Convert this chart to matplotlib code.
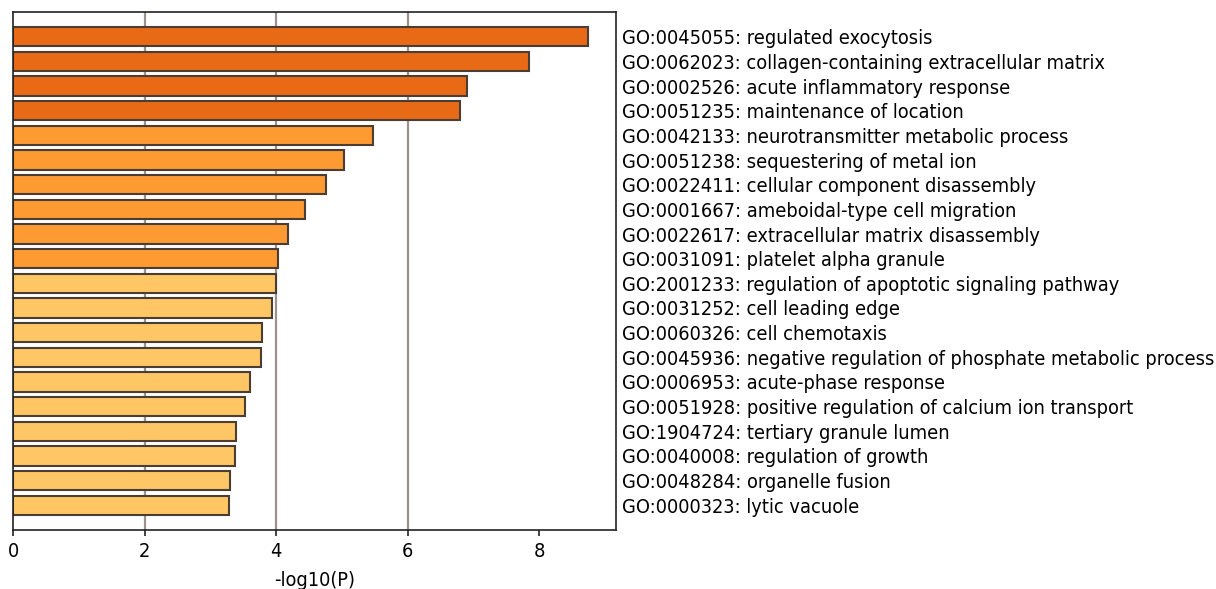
import numpy as np
import matplotlib.pyplot as plt
from matplotlib import font_manager

# GO term enrichment, -log10(P)
terms = [
    "GO:0045055: regulated exocytosis",
    "GO:0062023: collagen-containing extracellular matrix",
    "GO:0002526: acute inflammatory response",
    "GO:0051235: maintenance of location",
    "GO:0042133: neurotransmitter metabolic process",
    "GO:0051238: sequestering of metal ion",
    "GO:0022411: cellular component disassembly",
    "GO:0001667: ameboidal-type cell migration",
    "GO:0022617: extracellular matrix disassembly",
    "GO:0031091: platelet alpha granule",
    "GO:2001233: regulation of apoptotic signaling pathway",
    "GO:0031252: cell leading edge",
    "GO:0060326: cell chemotaxis",
    "GO:0045936: negative regulation of phosphate metabolic process",
    "GO:0006953: acute-phase response",
    "GO:0051928: positive regulation of calcium ion transport",
    "GO:1904724: tertiary granule lumen",
    "GO:0040008: regulation of growth",
    "GO:0048284: organelle fusion",
    "GO:0000323: lytic vacuole",
]
log_p = [8.74, 7.85, 6.91, 6.79, 5.48, 5.04, 4.76, 4.44, 4.18, 4.03,
         4.00, 3.94, 3.79, 3.77, 3.61, 3.53, 3.39, 3.37, 3.30, 3.28]
# significance tier: 0 = strongest, 2 = weakest
tier = [0, 0, 0, 0, 1, 1, 1, 1, 1, 1,
        2, 2, 2, 2, 2, 2, 2, 2, 2, 2]

tier_colors = ["#E86A17", "#FD9A31", "#FFC666"]

# narrow face if the condensed DejaVu is around
names = {f.name for f in font_manager.fontManager.ttflist}
if "DejaVu Sans Condensed" in names:
    plt.rcParams["font.family"] = "DejaVu Sans Condensed"
else:
    plt.rcParams["font.family"] = "DejaVu Sans"
    plt.rcParams["font.stretch"] = "condensed"
fs = 14.3

fig = plt.figure(figsize=(12.16, 5.89), dpi=100)
ax = fig.add_axes([0.0107, 0.1002, 0.4959, 0.8794])

ypos = np.arange(len(terms))
for gx in [2, 4, 6]:
    ax.axvline(gx, color="#9c918c", linewidth=1.6, zorder=0)
ax.barh(ypos, log_p, height=0.78, color=[tier_colors[t] for t in tier],
        edgecolor="#4a3d33", linewidth=1.5, zorder=2)

ax.set_xlim(0, 9.17)
ax.set_ylim(len(terms), -1)
ax.set_xticks([0, 2, 4, 6, 8])
ax.set_yticks(ypos)
ax.set_yticklabels(terms)
ax.yaxis.tick_right()
ax.tick_params(axis="y", length=0, pad=4, labelsize=fs)
ax.tick_params(axis="x", length=4, width=1.2, labelsize=fs, color="#222222", pad=5)
ax.set_xlabel("-log10(P)", fontsize=fs, labelpad=7)
for s in ax.spines.values():
    s.set_color("#222222")
    s.set_linewidth(1.2)

fig.savefig("out.png", dpi=100)
plt.close()
